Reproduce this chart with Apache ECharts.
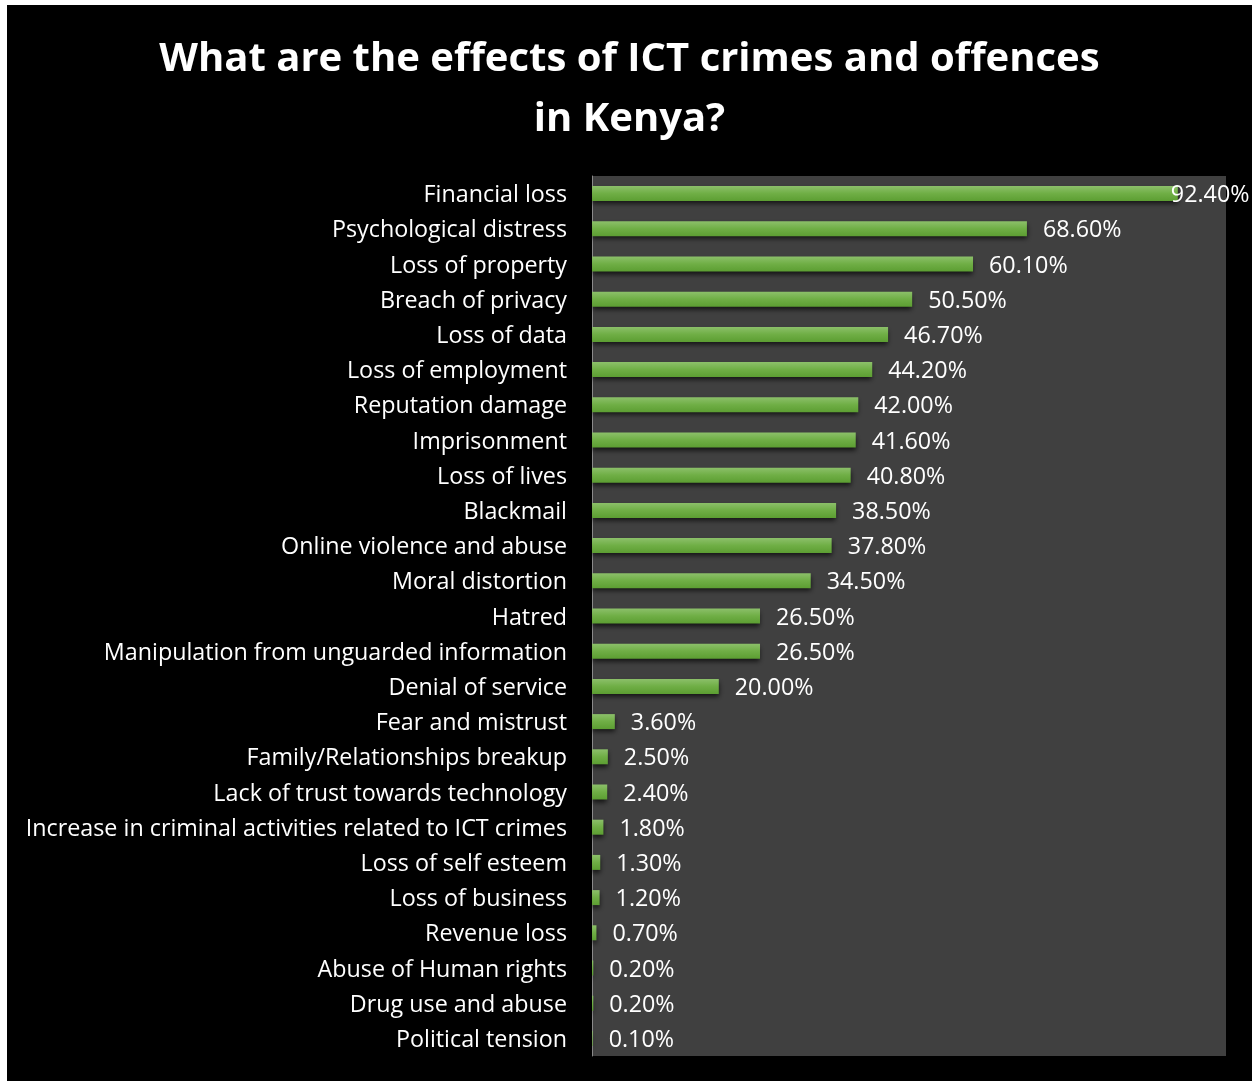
<!DOCTYPE html>
<html>
<head>
<meta charset="utf-8">
<script src="https://cdn.jsdelivr.net/npm/echarts@6/dist/echarts.min.js"></script>
<style>
  html, body { margin: 0; padding: 0; background: #ffffff; }
  #chart { position: absolute; left: 7px; top: 5px; width: 1245px; height: 1076px; background: #000000; }
</style>
</head>
<body>
<div id="chart"></div>
<script>
// Effects of ICT crimes and offences, share of respondents (%)
const categories = [
  'Financial loss',
  'Psychological distress',
  'Loss of property',
  'Breach of privacy',
  'Loss of data',
  'Loss of employment',
  'Reputation damage',
  'Imprisonment',
  'Loss of lives',
  'Blackmail',
  'Online violence and abuse',
  'Moral distortion',
  'Hatred',
  'Manipulation from unguarded information',
  'Denial of service',
  'Fear and mistrust',
  'Family/Relationships breakup',
  'Lack of trust towards technology',
  'Increase in criminal activities related to ICT crimes',
  'Loss of self esteem',
  'Loss of business',
  'Revenue loss',
  'Abuse of Human rights',
  'Drug use and abuse',
  'Political tension'
];
const values = [92.4, 68.6, 60.1, 50.5, 46.7, 44.2, 42.0, 41.6, 40.8, 38.5, 37.8, 34.5,
  26.5, 26.5, 20.0, 3.6, 2.5, 2.4, 1.8, 1.3, 1.2, 0.7, 0.2, 0.2, 0.1];

const chart = echarts.init(document.getElementById('chart'), null, { renderer: 'canvas' });

const FONT = '"Open Sans", sans-serif';

// Bars drawn top-to-bottom: category axis reversed via inverse
const seriesData = values.map(function (v) {
  const item = { value: v };
  if (v > 90) {
    // the longest bar's label sits against the plot edge
    item.label = { distance: -7 };
  }
  return item;
});

chart.setOption({
  backgroundColor: '#000000',
  title: {
    text: 'What are the effects of ICT crimes and offences\nin Kenya?',
    left: 'center',
    top: 20,
    textStyle: {
      color: '#ffffff',
      fontFamily: FONT,
      fontWeight: 'bold',
      fontSize: 40,
      lineHeight: 60
    }
  },
  grid: {
    left: 585,
    top: 171,
    right: 26,
    bottom: 25,
    show: true,
    backgroundColor: '#404040',
    borderWidth: 0,
    containLabel: false
  },
  xAxis: {
    type: 'value',
    min: 0,
    max: 100,
    show: false
  },
  yAxis: {
    type: 'category',
    data: categories,
    inverse: true,
    axisLine: { show: true, lineStyle: { color: '#8a8a8a', width: 1 } },
    axisTick: { show: false },
    splitLine: { show: false },
    axisLabel: {
      margin: 25,
      formatter: function (v) { return '{c|' + v + '}'; },
      rich: {
        c: {
          color: '#ffffff',
          fontFamily: FONT,
          fontSize: 23.3,
          padding: [4, 0, 0, 0]
        }
      }
    }
  },
  series: [{
    type: 'bar',
    data: seriesData,
    barWidth: 15,
    itemStyle: {
      color: new echarts.graphic.LinearGradient(0, 0, 0, 1, [
        { offset: 0, color: '#8cc06a' },
        { offset: 0.5, color: '#6fae45' },
        { offset: 1, color: '#5c9e32' }
      ]),
      shadowColor: 'rgba(0,0,0,0.7)',
      shadowBlur: 5,
      shadowOffsetY: 3
    },
    label: {
      show: true,
      position: 'right',
      distance: 16,
      offset: [0, 2],
      color: '#ffffff',
      fontFamily: FONT,
      fontSize: 23.3,
      formatter: function (p) { return p.value.toFixed(2) + '%'; }
    },
    animation: false
  }]
});
</script>
</body>
</html>
